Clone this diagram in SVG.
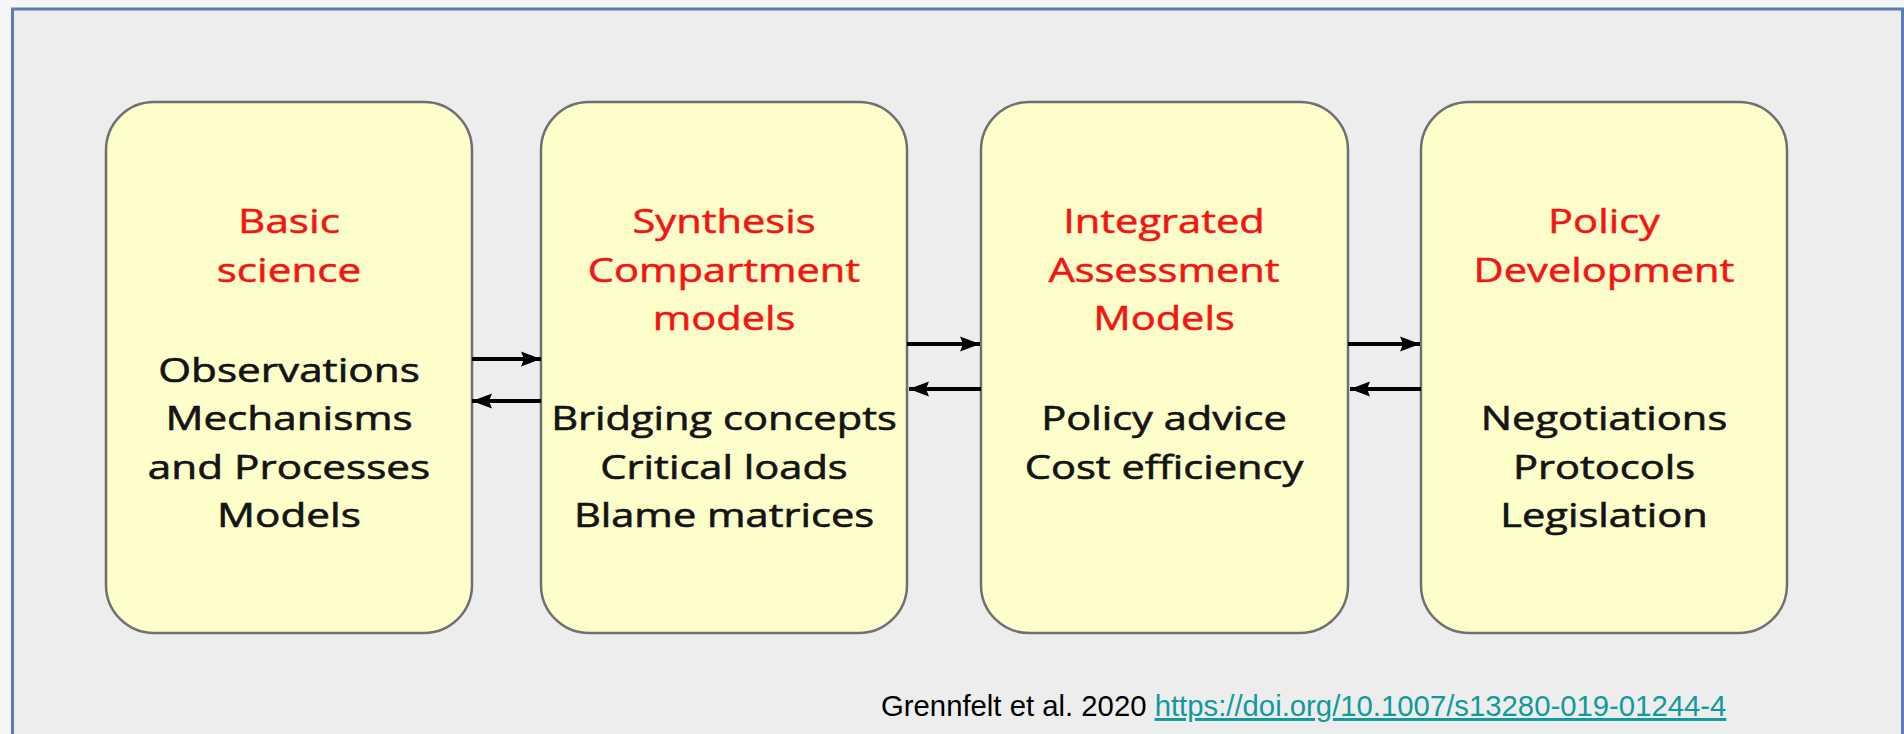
<svg xmlns="http://www.w3.org/2000/svg" width="1904" height="734" viewBox="0 0 1904 734">
  <style>
    .box { fill: #fefecb; stroke: #707070; stroke-width: 2.5; }
    .title { font-family: "Open Sans", "Liberation Sans", sans-serif; font-size: 32px; fill: #f41414; stroke: #f41414; stroke-width: 0.5; text-anchor: middle; }
    .body { font-family: "Open Sans", "Liberation Sans", sans-serif; font-size: 32px; fill: #141414; stroke: #141414; stroke-width: 0.6; text-anchor: middle; }
    .arrow { stroke: #000; stroke-width: 4; fill: none; marker-end: url(#head); }
    .cite { font-family: "Liberation Sans", Arial, sans-serif; font-size: 29.3px; }
  </style>
  <defs>
    <marker id="head" markerUnits="userSpaceOnUse" markerWidth="22" markerHeight="18" refX="20" refY="9" orient="auto">
      <path d="M0,1.5 L20,9 L0,16.5 L3,9 Z" fill="#000"/>
    </marker>
  </defs>

  <!-- page background and framed panel -->
  <rect x="0" y="0" width="1904" height="734" fill="#f6f6f6"/>
  <rect x="12.5" y="9" width="1890" height="740" fill="#ededed" stroke="#5a7db3" stroke-width="3"/>

  <!-- stage boxes -->
  <g id="basic-science">
    <rect class="box" x="106" y="102" width="366" height="531" rx="48" ry="48"/>
    <g transform="translate(289,0) scale(1.32,1)">
      <text class="title" x="0" y="233">Basic</text>
      <text class="title" x="0" y="282">science</text>
      <text class="body" x="0" y="382">Observations</text>
      <text class="body" x="0" y="430">Mechanisms</text>
      <text class="body" x="0" y="479">and Processes</text>
      <text class="body" x="0" y="527">Models</text>
    </g>
  </g>

  <g id="synthesis">
    <rect class="box" x="541" y="102" width="366" height="531" rx="48" ry="48"/>
    <g transform="translate(724,0) scale(1.3,1)">
      <text class="title" x="0" y="233">Synthesis</text>
      <text class="title" x="0" y="282">Compartment</text>
      <text class="title" x="0" y="330">models</text>
      <text class="body" x="0" y="430">Bridging concepts</text>
      <text class="body" x="0" y="479">Critical loads</text>
      <text class="body" x="0" y="527">Blame matrices</text>
    </g>
  </g>

  <g id="integrated-assessment">
    <rect class="box" x="981" y="102" width="367" height="531" rx="48" ry="48"/>
    <g transform="translate(1164,0) scale(1.3,1)">
      <text class="title" x="0" y="233">Integrated</text>
      <text class="title" x="0" y="282">Assessment</text>
      <text class="title" x="0" y="330">Models</text>
      <text class="body" x="0" y="430">Policy advice</text>
      <text class="body" x="0" y="479">Cost efficiency</text>
    </g>
  </g>

  <g id="policy-development">
    <rect class="box" x="1421" y="102" width="366" height="531" rx="48" ry="48"/>
    <g transform="translate(1604,0) scale(1.3,1)">
      <text class="title" x="0" y="233">Policy</text>
      <text class="title" x="0" y="282">Development</text>
      <text class="body" x="0" y="430">Negotiations</text>
      <text class="body" x="0" y="479">Protocols</text>
      <text class="body" x="0" y="527">Legislation</text>
    </g>
  </g>

  <!-- two-way links between neighbouring stages -->
  <g id="connectors">
    <line class="arrow" x1="472" y1="359" x2="541" y2="359"/>
    <line class="arrow" x1="541" y1="401" x2="472" y2="401"/>
    <line class="arrow" x1="907" y1="344" x2="980" y2="344"/>
    <line class="arrow" x1="981" y1="389" x2="909" y2="389"/>
    <line class="arrow" x1="1348" y1="344" x2="1420" y2="344"/>
    <line class="arrow" x1="1421" y1="389" x2="1350" y2="389"/>
  </g>

  <!-- source reference -->
  <g id="citation">
    <text class="cite" x="881" y="716"><tspan fill="#000">Grennfelt et al. 2020 </tspan><tspan fill="#109a9c" text-decoration="underline">https://doi.org/10.1007/s13280-019-01244-4</tspan></text>
  </g>
</svg>
